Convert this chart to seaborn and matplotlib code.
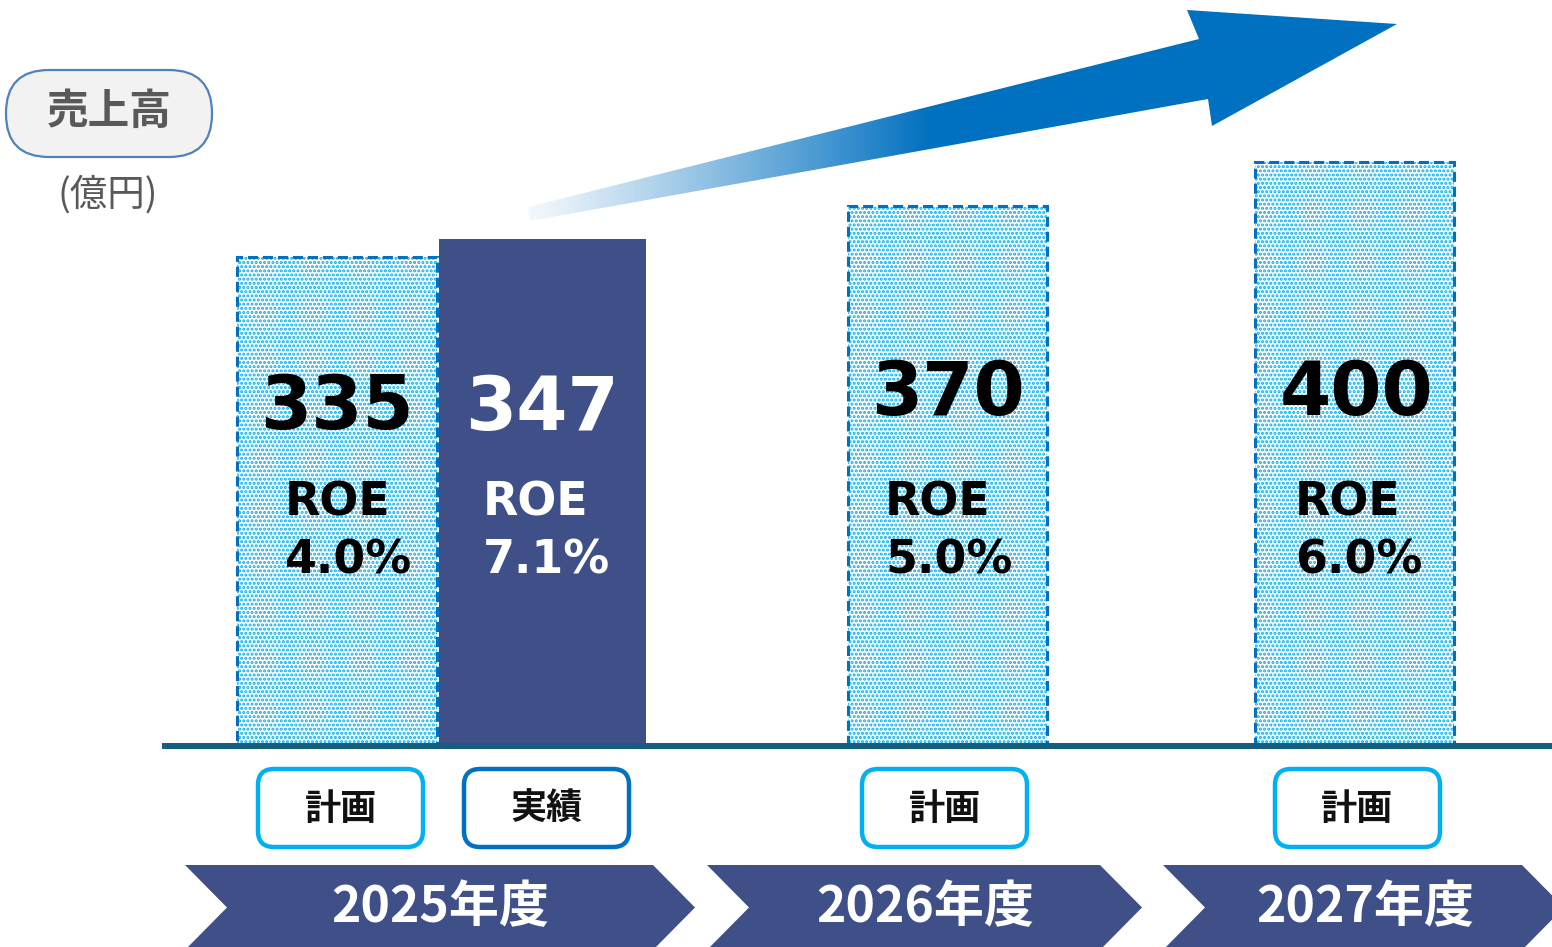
import numpy as np
import pandas as pd
import matplotlib
matplotlib.use("Agg")
import matplotlib.pyplot as plt
import seaborn as sns
from matplotlib.patches import Rectangle, FancyBboxPatch, Polygon

# ---------------- data ----------------
years = ["2025年度", "2026年度", "2027年度"]
bar_kind = ["計画", "実績", "計画", "計画"]
sales = [335, 347, 370, 400]
roe_text = ["4.0%", "7.1%", "5.0%", "6.0%"]
metric_label = "売上高"
unit_label = "(億円)"

# ---------------- layout (pixels) ----------------
W, H = 1552, 947
slot = [0, 1, 3, 5]            # bar slots along x
SLOT_PX = 203.5
X0_PX = 337
BASE_PX = 746                  # baseline, from top
PX_PER_UNIT = 1.46

NAVY = "#3F5089"
DASH_BLUE = "#0070C0"
DOT_BLUE = "#00B0F0"

sns.set_theme(style="white")
plt.rcParams['font.family'] = ['DejaVu Sans', 'Noto Sans CJK JP']
plt.rcParams['hatch.linewidth'] = 1.5
plt.rcParams['hatch.color'] = DOT_BLUE

fig = plt.figure(figsize=(W / 100, H / 100), dpi=100)
ax = fig.add_axes([0, (H - BASE_PX) / H, 1, BASE_PX / H])
ax2 = fig.add_axes([0, 0, 1, 1], zorder=3)
ax2.patch.set_alpha(0)

# ---------------- bars ----------------
df = pd.DataFrame({"slot": slot, "sales": sales, "kind": bar_kind})
sns.barplot(data=df, x="slot", y="sales", hue="kind",
            palette={"計画": "white", "実績": NAVY},
            native_scale=True, dodge=False, width=0.98, saturation=1,
            linewidth=0, legend=False, ax=ax)

for p in list(ax.patches):
    cx = p.get_x() + p.get_width() / 2
    i = int(np.argmin([abs(cx - s) for s in slot]))
    if bar_kind[i] == "計画":
        p.set_facecolor("white")
        p.set_edgecolor(DOT_BLUE)
        try:
            p.set_hatchcolor(DOT_BLUE)
        except Exception:
            pass
        p.set_hatch("....")
        p.set_linewidth(0)
        ax.add_patch(Rectangle((p.get_x(), 0), p.get_width(), p.get_height(),
                               fill=False, edgecolor=DASH_BLUE, lw=2.2,
                               ls=(0, (3.3, 1.6)), zorder=p.get_zorder() + 0.1))
    else:
        p.set_linewidth(0)
        w_new = 207 / SLOT_PX
        p.set_x(cx + 2 / SLOT_PX - w_new / 2)
        p.set_width(w_new)

ax.set_xlim(-X0_PX / SLOT_PX, (W - X0_PX) / SLOT_PX)
ax.set_ylim(0, BASE_PX / PX_PER_UNIT)
ax.axis("off")

# ---------------- overlay (pixel coords) ----------------
ax2.set_xlim(0, W)
ax2.set_ylim(H, 0)
ax2.axis("off")

# baseline
ax2.plot([162, W], [BASE_PX, BASE_PX], color="#165E80", lw=4.3,
         solid_capstyle="butt", zorder=5)

# value labels on bars
num_pos = [(337, 408), (542, 409), (948, 394), (1357, 394)]
roe_left = [285, 483, 885, 1295]
for i in range(len(sales)):
    col = "white" if bar_kind[i] == "実績" else "black"
    ax2.text(num_pos[i][0], num_pos[i][1], f"{sales[i]}", ha="center", va="center",
             fontsize=53, fontweight="bold", color=col, family="DejaVu Sans", zorder=6)
    ax2.text(roe_left[i], 503, "ROE", ha="left", va="center",
             fontsize=33, fontweight="bold", color=col, family="DejaVu Sans", zorder=6)
    ax2.text(roe_left[i], 561, roe_text[i], ha="left", va="center",
             fontsize=33, fontweight="bold", color=col, family="DejaVu Sans", zorder=6)

# kind label boxes
box_x = [258, 464, 862, 1275]
for i in range(len(bar_kind)):
    ec = DASH_BLUE if bar_kind[i] == "実績" else DOT_BLUE
    ax2.add_patch(FancyBboxPatch((box_x[i], 769), 165, 78,
                                 boxstyle="round,pad=0,rounding_size=16",
                                 facecolor="white", edgecolor=ec, lw=3.2, zorder=5))
    ax2.text(box_x[i] + 82.5, 809, bar_kind[i], ha="center", va="center",
             fontsize=26, fontweight="bold", color="#111111",
             family=["Noto Sans CJK JP"], zorder=6)

# year chevrons
chev = [(185, 653), (707, 1100), (1163, 1522)]
chev_text_x = [440, 925, 1365]
depth = 42
yt, yb = 865, 950
ym = (yt + yb) / 2
for (xl, xr), tx, yr in zip(chev, chev_text_x, years):
    pts = [(xl, yt), (xr, yt), (xr + depth, ym), (xr, yb), (xl, yb), (xl + depth, ym)]
    ax2.add_patch(Polygon(pts, closed=True, facecolor=NAVY, edgecolor="none", zorder=4))
    ax2.text(tx, 908, yr, ha="center", va="center", fontsize=36, fontweight="bold",
             color="white", family=["Noto Sans CJK JP"], zorder=6)

# metric pill
ax2.add_patch(FancyBboxPatch((6, 70), 206, 87, boxstyle="round,pad=0,rounding_size=43",
                             facecolor="#F2F2F2", edgecolor="#4F81BD", lw=1.6, zorder=5))
ax2.text(109, 112, metric_label, ha="center", va="center", fontsize=30,
         fontweight="bold", color="#595959", family=["Noto Sans CJK JP"], zorder=6)
ax2.text(108, 195, unit_label, ha="center", va="center", fontsize=27,
         color="#595959", family=["Noto Sans CJK JP"], zorder=6)

# gradient growth arrow
arrow_pts = [(528, 207), (1199, 39), (1187, 10), (1397, 24), (1212, 126),
             (1208, 99), (530, 221)]
poly = Polygon(arrow_pts, closed=True, facecolor="none", edgecolor="none")
ax2.add_patch(poly)
xs = np.linspace(500, 1410, 910)
t = np.clip((xs - 525) / (930 - 525), 0, 1)
rgba = np.zeros((1, len(xs), 4))
rgba[..., 0] = 0 / 255
rgba[..., 1] = 112 / 255
rgba[..., 2] = 192 / 255
rgba[..., 3] = 0.04 + 0.96 * t ** 1.1
im = ax2.imshow(rgba, extent=(500, 1410, 240, 0), aspect="auto",
                interpolation="bilinear", zorder=4)
im.set_clip_path(poly)
ax2.set_xlim(0, W)
ax2.set_ylim(H, 0)

fig.savefig("out.png", dpi=100)
